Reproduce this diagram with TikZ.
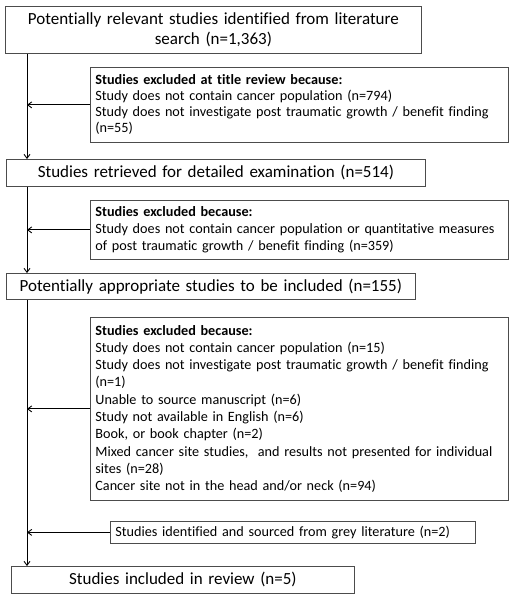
\documentclass[tikz,border=0pt]{standalone}
\usepackage{fontspec}
\setmainfont{Carlito}[Ligatures=NoCommon]
\usetikzlibrary{arrows.meta}
\begin{document}
\begin{tikzpicture}[x=1pt,y=-1pt,
 box/.style={draw=black!70, line width=0.8pt, inner xsep=5pt, inner ysep=0pt, anchor=north west, font=\fontsize{17}{19.5}\selectfont, align=center},
 sbox/.style={draw=black!70, line width=0.8pt, inner xsep=5pt, inner ysep=0pt, anchor=north west, font=\fontsize{14.2}{16}\selectfont, align=left},
 flow/.style={line width=0.9pt, -{Straight Barb[length=4pt,width=6pt]}}]
\useasboundingbox (0,0) rectangle (515,600);
\coordinate (tx) at (27,0);
\node[box, text width=406pt, minimum height=47pt] (b1) at (5,6)
  {Potentially relevant studies identified from literature\\search (n=1,363)};
\node[sbox, text width=408pt, minimum height=75pt] (b2) at (90,67)
  {\textbf{Studies excluded at title review because:}\\
   Study does not contain cancer population (n=794)\\
   Study does not investigate post traumatic growth / benefit finding\\
   (n=55)};
\node[box, text width=409pt, minimum height=27pt] (b3) at (6,159)
  {Studies retrieved for detailed examination (n=514)};
\node[sbox, font=\fontsize{14.2}{17}\selectfont, text width=408pt, minimum height=59pt] (b4) at (90,200)
  {\textbf{Studies excluded because:}\\
   Study does not contain cancer population or quantitative measures\\
   of post traumatic growth / benefit finding (n=359)};
\node[box, text width=399pt, minimum height=26pt] (b5) at (6,273)
  {Potentially appropriate studies to be included (n=155)};
\node[sbox, font=\fontsize{14.2}{17.3}\selectfont, text width=408pt, minimum height=183pt] (b6) at (90,317)
  {\textbf{Studies excluded because:}\\
   Study does not contain cancer population (n=15)\\
   Study does not investigate post traumatic growth / benefit finding\\
   (n=1)\\
   Unable to source manuscript (n=6)\\
   Study not available in English (n=6)\\
   Book, or book chapter (n=2)\\
   Mixed cancer site studies,\ \ and results not presented for individual\\
   sites (n=28)\\
   Cancer site not in the head and/or neck (n=94)};
\node[sbox, text width=355pt, minimum height=22pt] (b7) at (110,521)
  {Studies identified and sourced from grey literature (n=2)};
\node[box, text width=333pt, minimum height=27pt] (b8) at (11,566)
  {Studies included in review (n=5)};
\draw[flow] (b1.south -| tx) -- (b3.north -| tx);
\draw[flow] (b3.south -| tx) -- (b5.north -| tx);
\draw[flow] (b5.south -| tx) -- (b8.north -| tx);
\draw[flow] (b2.west) -- (b2.west -| tx);
\draw[flow] (b4.west) -- (b4.west -| tx);
\draw[flow] (b6.west) -- (b6.west -| tx);
\draw[flow] (b7.west) -- (b7.west -| tx);
\end{tikzpicture}
\end{document}
